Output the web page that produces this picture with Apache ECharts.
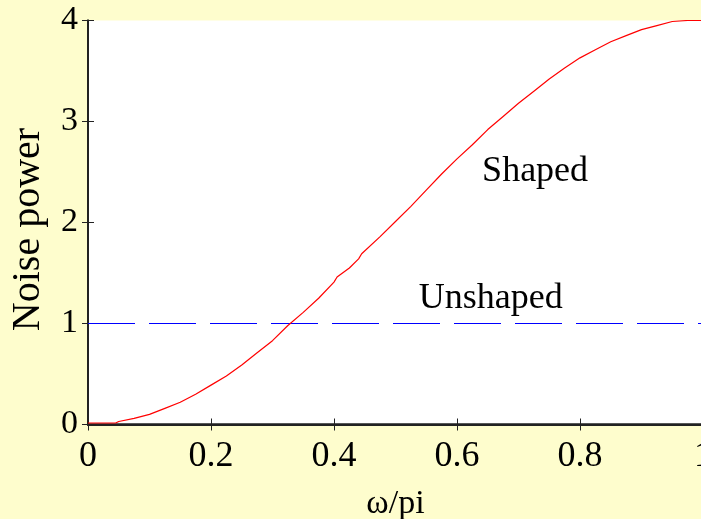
<!DOCTYPE html>
<html>
<head>
<meta charset="utf-8">
<script src="https://cdn.jsdelivr.net/npm/echarts@6/dist/echarts.min.js"></script>
<style>
html,body{margin:0;padding:0;background:#FEFDCD;}
#chart{width:701px;height:519px;}
</style>
</head>
<body>
<div id="chart"></div>
<script>
var freq = [0, 0.025, 0.045, 0.05, 0.075, 0.1, 0.125, 0.15, 0.175, 0.2, 0.225, 0.25, 0.275, 0.3, 0.325, 0.35, 0.375, 0.4, 0.405, 0.425, 0.44, 0.445, 0.475, 0.5, 0.525, 0.55, 0.575, 0.6, 0.625, 0.65, 0.675, 0.7, 0.725, 0.75, 0.775, 0.8, 0.825, 0.85, 0.875, 0.9, 0.925, 0.95, 0.975, 1];
var shaped = [0.015, 0.015, 0.015, 0.03, 0.06, 0.10, 0.16, 0.22, 0.30, 0.39, 0.48, 0.59, 0.71, 0.83, 0.98, 1.11, 1.25, 1.41, 1.46, 1.55, 1.64, 1.69, 1.86, 2.01, 2.16, 2.32, 2.48, 2.63, 2.77, 2.92, 3.05, 3.18, 3.30, 3.42, 3.53, 3.63, 3.71, 3.79, 3.85, 3.91, 3.95, 3.99, 4.0, 4.0];
var unshapedX = [0, 1];
var unshaped = [1, 1];
var xTicks = [0, 0.2, 0.4, 0.6, 0.8, 1];
var yTicks = [0, 1, 2, 3, 4];
var noteText = ['Shaped', 'Unshaped'];
var noteX = [0.727, 0.655];
var noteY = [2.5, 1.25];

var serif = "'Liberation Serif', 'Times New Roman', serif";
var axisCol = '#222';

function pairs(xs, ys){
	var out = [];
	for(var i = 0; i < xs.length; i++){
		out.push([xs[i], ys[i]]);
	}
	return out;
}

var notes = [];
for(var i = 0; i < noteText.length; i++){
	notes.push({
		coord: [noteX[i], noteY[i]],
		symbolSize: 0,
		label: {show: true, formatter: noteText[i], position: 'inside', color: '#000', fontFamily: serif, fontSize: 36}
	});
}

var chart = echarts.init(document.getElementById('chart'));
var option = {
	backgroundColor: '#FEFDCD',
	animation: false,
	grid: {
		left: 88, right: -2, top: 20.5, bottom: 94.5,
		outerBoundsMode: 'none', containLabel: false,
		show: true, backgroundColor: '#fff', borderWidth: 0
	},
	xAxis: [{
		type: 'value',
		min: xTicks[0], max: xTicks[xTicks.length - 1], interval: 0.2,
		name: 'ω/pi', nameLocation: 'middle', nameGap: 63,
		nameTextStyle: {fontFamily: serif, fontSize: 34, color: '#000'},
		axisLine: {show: true, lineStyle: {color: axisCol, width: 2.5}},
		axisTick: {show: true, inside: true, length: 6, lineStyle: {color: axisCol}},
		axisLabel: {
			margin: 14, fontFamily: serif, fontSize: 36, color: '#000', showMaxLabel: true,
			formatter: function(v){ return String(+v.toFixed(1)); }
		},
		splitLine: {show: false}
	}, {
		type: 'value', position: 'top',
		min: xTicks[0], max: xTicks[xTicks.length - 1], interval: 0.2,
		axisLine: {show: true, lineStyle: {color: axisCol, width: 2}},
		axisTick: {show: true, inside: true, length: 6, lineStyle: {color: axisCol}},
		axisLabel: {show: false},
		splitLine: {show: false}
	}],
	yAxis: [{
		type: 'value',
		min: yTicks[0], max: yTicks[yTicks.length - 1], interval: 1,
		name: 'Noise power', nameLocation: 'middle', nameGap: 40,
		nameTextStyle: {fontFamily: serif, fontSize: 40, color: '#000', padding: [0, 14, 0, 0]},
		axisLine: {show: true, lineStyle: {color: axisCol, width: 2}},
		axisTick: {show: true, inside: true, length: 6, lineStyle: {color: axisCol}},
		axisLabel: {margin: 10, fontFamily: serif, fontSize: 34, color: '#000'},
		splitLine: {show: false}
	}, {
		type: 'value', position: 'right',
		min: yTicks[0], max: yTicks[yTicks.length - 1], interval: 1,
		axisLine: {show: true, lineStyle: {color: axisCol, width: 2}},
		axisTick: {show: true, inside: true, length: 6, lineStyle: {color: axisCol}},
		axisLabel: {show: false},
		splitLine: {show: false}
	}],
	series: [{
		name: 'Unshaped',
		type: 'line',
		data: pairs(unshapedX, unshaped),
		showSymbol: false,
		lineStyle: {color: '#0000FF', width: 1, type: [47, 14]},
		markPoint: {data: notes, silent: true}
	}, {
		name: 'Shaped',
		type: 'line',
		data: pairs(freq, shaped),
		showSymbol: false,
		lineStyle: {color: '#FF0000', width: 1.2}
	}]
};
chart.setOption(option);
</script>
</body>
</html>
